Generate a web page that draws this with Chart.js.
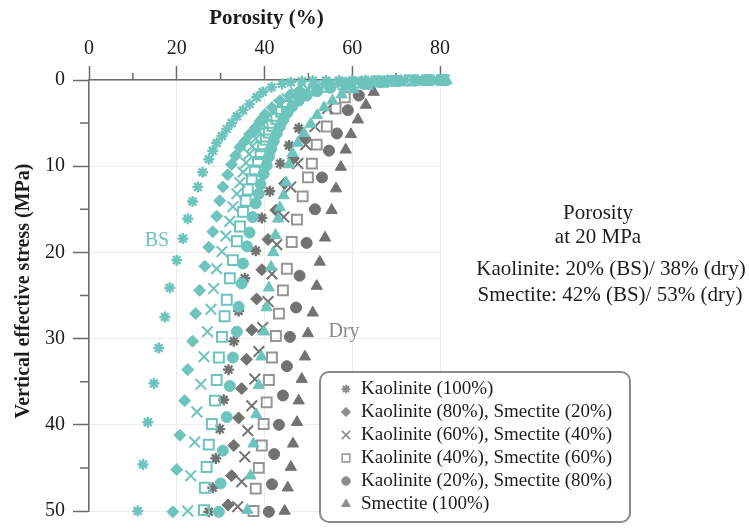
<!DOCTYPE html>
<html>
<head>
<meta charset="utf-8">
<script src="https://cdn.jsdelivr.net/npm/chart.js"></script>
<style>
  html, body { margin: 0; padding: 0; background: #ffffff; }
  canvas { display: block; }
</style>
</head>
<body>
<canvas id="chart" width="749" height="531"></canvas>
<script>
// Compaction curves: porosity (%) against vertical effective stress (MPa)
// for kaolinite–smectite mixtures, brine-saturated (BS) and dry.

const porosityTicks = [0, 20, 40, 60, 80];
const porosityMinorTicks = [10, 30, 50, 70];
const stressTicks = [0, 10, 20, 30, 40, 50];
const stressMinorTicks = [5, 15, 25, 35, 45];

const mixtureLabels = [
  'Kaolinite (100%)',
  'Kaolinite (80%), Smectite (20%)',
  'Kaolinite (60%), Smectite (40%)',
  'Kaolinite (40%), Smectite (60%)',
  'Kaolinite (20%), Smectite (80%)',
  'Smectite (100%)'
];

// Brine-saturated (BS)
const bsK100Stress = [0, 0, 0.01, 0.01, 0.02, 0.02, 0.03, 0.04, 0.05, 0.07, 0.1, 0.15, 0.25, 0.45, 0.85, 1.4, 2.0, 2.8, 3.5, 4.2, 5.0, 5.7, 6.5, 7.3, 8.2, 9.2, 10.7, 12.4, 14.1, 16.1, 18.4, 20.9, 24.1, 27.5, 31.1, 35.2, 39.7, 44.6, 50.0];
const bsK100Porosity = [81, 78, 75, 72, 69, 66, 63, 60, 57, 54, 51, 48.5, 46, 44, 41.6, 39.6, 38.2, 36.6, 35.1, 33.7, 32.5, 31.4, 30.3, 29.1, 28.2, 27.3, 25.9, 24.8, 23.6, 22.5, 21.4, 20.0, 18.4, 17.3, 15.9, 14.8, 13.4, 12.3, 11.1];

const bsK80Stress = [0, 0.01, 0.02, 0.04, 0.07, 0.12, 0.2, 0.3, 0.45, 0.75, 1.2, 1.75, 2.4, 3.2, 4.0, 4.8, 5.6, 6.3, 7.1, 7.8, 8.8, 9.8, 11.0, 12.4, 14.0, 15.8, 17.6, 19.4, 21.6, 24.4, 27.1, 30.3, 33.6, 37.2, 41.2, 45.2, 50.1];
const bsK80Porosity = [80, 77, 74, 71, 68, 65, 62, 58.5, 55, 51.5, 48.0, 45.8, 43.5, 41.7, 40.1, 38.9, 37.8, 36.6, 35.5, 34.4, 33.4, 32.5, 31.6, 30.5, 29.8, 29.1, 28.2, 27.3, 26.4, 25.2, 24.3, 23.6, 22.5, 21.8, 20.7, 20.0, 19.1];

const bsK60Stress = [0, 0.01, 0.03, 0.05, 0.1, 0.17, 0.28, 0.45, 0.7, 1.1, 1.6, 2.2, 2.9, 3.6, 4.4, 5.2, 6.0, 6.8, 7.7, 8.6, 9.6, 10.7, 11.9, 13.2, 14.7, 16.4, 18.1, 19.9, 21.9, 24.2, 26.6, 29.2, 32.1, 35.3, 38.5, 42.0, 45.9, 50.0];
const bsK60Porosity = [81, 78.5, 75.5, 72, 68.3, 64.5, 60.8, 57, 53.3, 50, 47.3, 45.1, 43.3, 41.9, 40.7, 39.7, 38.8, 38.0, 37.2, 36.5, 35.8, 35.1, 34.4, 33.7, 32.8, 32.1, 31.2, 30.3, 29.1, 28.4, 27.8, 27.0, 26.2, 25.5, 24.6, 24.1, 23.2, 22.5];

const bsK40Stress = [0, 0.02, 0.05, 0.1, 0.18, 0.3, 0.5, 0.8, 1.2, 1.7, 2.3, 3.0, 3.7, 4.5, 5.3, 6.1, 6.9, 7.7, 8.6, 9.5, 10.5, 11.5, 12.7, 14.0, 15.3, 17.0, 18.7, 20.9, 23.0, 25.5, 27.4, 29.8, 32.2, 34.8, 37.2, 39.9, 42.3, 44.9, 47.3, 49.9];
const bsK40Porosity = [80.5, 77, 73.2, 69.5, 65.5, 61.8, 58, 54.3, 51.2, 48.7, 46.7, 45.1, 43.8, 42.7, 41.8, 41.0, 40.3, 39.7, 39.1, 38.5, 37.8, 37.1, 36.2, 35.7, 35.1, 34.4, 33.7, 32.8, 32.1, 31.4, 30.9, 30.3, 29.6, 29.1, 28.7, 28.0, 27.3, 26.8, 26.4, 26.2];

const bsK20Stress = [0, 0.02, 0.06, 0.12, 0.22, 0.38, 0.6, 0.9, 1.3, 1.8, 2.4, 3.1, 3.8, 4.6, 5.4, 6.2, 7.1, 8.0, 8.9, 9.9, 10.9, 12.1, 13.2, 14.3, 15.9, 17.7, 19.3, 21.3, 23.6, 26.3, 29.2, 32.2, 35.5, 39.1, 43.0, 46.8, 50.1];
const bsK20Porosity = [81.5, 78, 74.5, 70.5, 66.5, 62.5, 58.5, 55.0, 52.0, 49.6, 47.8, 46.3, 45.2, 44.3, 43.5, 42.8, 42.1, 41.5, 41.0, 40.5, 39.8, 39.1, 38.7, 38.0, 37.3, 36.6, 36.0, 35.1, 34.8, 34.1, 33.7, 32.8, 32.1, 31.4, 30.5, 30.0, 29.6];

const bsS100Stress = [0.05, 0.12, 0.2, 0.3, 0.45, 0.7, 1.1, 1.7, 2.4, 3.2, 4.1, 5.1, 6.2, 7.3, 8.5, 9.8, 11.9, 13.4, 14.8, 16.1, 18.0, 20.0, 21.7, 24.1, 26.4, 29.2, 32.1, 35.4, 38.8, 42.2, 45.9, 49.9];
const bsS100Porosity = [81.5, 78, 74.5, 70.8, 67, 63.5, 60.3, 57.6, 55.5, 53.6, 52.0, 50.5, 49.0, 47.6, 46.4, 45.6, 44.9, 44.4, 43.5, 43.1, 42.5, 42.0, 41.5, 41.0, 40.5, 39.9, 39.3, 38.7, 38.1, 37.5, 36.8, 36.1];

// Dry
const dryK100Stress = [5.6, 7.6, 9.7, 12.9, 16.0, 19.8, 23.0, 26.8, 30.3, 33.6, 37.1, 40.5, 43.9, 47.3, 50.1];
const dryK100Porosity = [47.8, 45.6, 43.6, 41.2, 39.4, 38.0, 35.5, 34.1, 33.0, 31.8, 30.7, 29.8, 28.9, 28.2, 27.3];

const dryK80Stress = [6.7, 9.1, 12.0, 15.1, 18.5, 22.0, 25.4, 29.0, 32.4, 35.8, 39.2, 42.4, 45.9, 49.3];
const dryK80Porosity = [49.2, 46.6, 44.6, 42.6, 40.8, 39.4, 38.2, 37.1, 35.9, 34.8, 34.1, 33.0, 32.5, 31.7];

const dryK60Stress = [3.3, 5.4, 7.5, 9.7, 12.4, 15.9, 19.1, 22.5, 25.7, 28.7, 31.5, 34.7, 37.8, 40.7, 43.7, 46.6, 49.5];
const dryK60Porosity = [54.4, 51.5, 49.4, 47.6, 46.0, 44.4, 42.8, 41.7, 40.8, 39.6, 38.7, 37.8, 37.1, 36.2, 35.5, 34.8, 33.9];

const dryK40Stress = [2.0, 3.3, 5.4, 7.5, 9.7, 11.3, 13.5, 16.2, 18.8, 21.9, 24.4, 27.1, 29.7, 32.2, 34.8, 37.4, 39.9, 42.4, 45.0, 47.4, 50.0];
const dryK40Porosity = [58.3, 56.2, 54.2, 51.9, 50.8, 49.9, 48.7, 47.4, 46.2, 45.1, 44.2, 43.3, 42.6, 41.7, 41.0, 40.5, 39.8, 39.4, 38.7, 38.0, 37.5];

const dryK20Stress = [1.8, 3.5, 6.2, 8.2, 11.3, 15.0, 18.9, 22.7, 26.4, 29.8, 33.2, 36.6, 40.0, 43.4, 46.9, 50.1];
const dryK20Porosity = [61.5, 59.0, 56.5, 54.7, 53.1, 51.5, 49.6, 48.0, 47.2, 45.8, 45.1, 44.2, 43.3, 42.2, 41.7, 41.0];

const dryS100Stress = [1.4, 2.9, 4.6, 6.3, 8.1, 10.1, 12.6, 15.1, 18.3, 21.1, 23.9, 27.0, 29.4, 32.1, 34.7, 37.2, 39.7, 42.2, 44.9, 47.3, 50.0];
const dryS100Porosity = [64.9, 63.1, 61.3, 59.7, 58.5, 57.4, 56.3, 55.3, 53.8, 52.6, 51.9, 51.0, 49.9, 49.2, 48.5, 47.8, 47.4, 46.5, 46.0, 45.3, 44.6];

const summaryLines = [
  'Porosity',
  'at 20 MPa',
  'Kaolinite: 20% (BS)/ 38% (dry)',
  'Smectite: 42% (BS)/ 53% (dry)'
];

// ---- styling ----
const SERIF = "'Liberation Serif', 'Times New Roman', serif";
const TEAL = '#6cc4bd';
const GRAY = '#727272';
const GRAY_LIGHT = '#959595';
const AXIS = '#6a6a6a';
const TEXT = '#1c1c1c';

// marker shapes per mixture, in the order of mixtureLabels
const markers = [
  { style: 'star',     radius: 5.5, width: 2.4, filled: false },
  { style: 'rectRot',  radius: 6,   width: 1,   filled: true  },
  { style: 'crossRot', radius: 7.5, width: 2,   filled: false },
  { style: 'rect',     radius: 7,   width: 2,   filled: false },
  { style: 'circle',   radius: 5.5, width: 1,   filled: true  },
  { style: 'triangle', radius: 6.5, width: 1,   filled: true  }
];

function toPoints(stress, porosity) {
  return stress.map((s, i) => ({ x: porosity[i], y: s }));
}

function makeSeries(label, stress, porosity, mIdx, color, square) {
  const m = markers[mIdx];
  const stroke = square ? (color === GRAY ? GRAY_LIGHT : color) : color;
  return {
    label: label,
    data: toPoints(stress, porosity),
    showLine: false,
    clip: false,
    pointStyle: m.style,
    pointRadius: m.radius,
    pointHoverRadius: m.radius,
    pointBorderWidth: m.width,
    pointBorderColor: stroke,
    pointBackgroundColor: m.filled ? color : 'rgba(0,0,0,0)',
    borderColor: stroke,
    backgroundColor: m.filled ? color : 'rgba(0,0,0,0)'
  };
}

// BS series first so they are painted above the dry ones
const datasets = [
  makeSeries('BS ' + mixtureLabels[0], bsK100Stress, bsK100Porosity, 0, TEAL),
  makeSeries('BS ' + mixtureLabels[1], bsK80Stress, bsK80Porosity, 1, TEAL),
  makeSeries('BS ' + mixtureLabels[2], bsK60Stress, bsK60Porosity, 2, TEAL),
  makeSeries('BS ' + mixtureLabels[3], bsK40Stress, bsK40Porosity, 3, TEAL, true),
  makeSeries('BS ' + mixtureLabels[4], bsK20Stress, bsK20Porosity, 4, TEAL),
  makeSeries('BS ' + mixtureLabels[5], bsS100Stress, bsS100Porosity, 5, TEAL),
  makeSeries('Dry ' + mixtureLabels[0], dryK100Stress, dryK100Porosity, 0, GRAY),
  makeSeries('Dry ' + mixtureLabels[1], dryK80Stress, dryK80Porosity, 1, GRAY),
  makeSeries('Dry ' + mixtureLabels[2], dryK60Stress, dryK60Porosity, 2, GRAY),
  makeSeries('Dry ' + mixtureLabels[3], dryK40Stress, dryK40Porosity, 3, GRAY, true),
  makeSeries('Dry ' + mixtureLabels[4], dryK20Stress, dryK20Porosity, 4, GRAY),
  makeSeries('Dry ' + mixtureLabels[5], dryS100Stress, dryS100Porosity, 5, GRAY)
];

// minor ticks, axis titles, annotations and the legend box
const decorations = {
  id: 'decorations',
  beforeDatasetsDraw(chart) {
    const ctx = chart.ctx;
    const area = chart.chartArea;
    const xs = chart.scales.x, ys = chart.scales.y;
    ctx.save();
    ctx.strokeStyle = AXIS;
    ctx.lineWidth = 1.5;
    ctx.beginPath();
    porosityMinorTicks.forEach(v => {
      const px = xs.getPixelForValue(v);
      ctx.moveTo(px, area.top);
      ctx.lineTo(px, area.top - 7);
    });
    stressMinorTicks.forEach(v => {
      const py = ys.getPixelForValue(v);
      ctx.moveTo(area.left, py);
      ctx.lineTo(area.left - 9, py);
    });
    ctx.stroke();
    ctx.restore();
  },
  afterDatasetsDraw(chart) {
    const ctx = chart.ctx;
    const area = chart.chartArea;
    ctx.save();

    // axis titles
    ctx.fillStyle = TEXT;
    ctx.textAlign = 'center';
    ctx.textBaseline = 'middle';
    ctx.font = 'bold 21px ' + SERIF;
    ctx.fillText('Porosity (%)', (area.left + area.right) / 2 + 2, 19);
    ctx.save();
    ctx.translate(24, 291);
    ctx.rotate(-Math.PI / 2);
    ctx.font = 'bold 20px ' + SERIF;
    ctx.fillText('Vertical effective stress (MPa)', 0, 0);
    ctx.restore();

    // curve group labels
    ctx.font = '20px ' + SERIF;
    ctx.fillStyle = TEAL;
    ctx.fillText('BS', 157, 241);
    ctx.fillStyle = '#8a8a8a';
    ctx.fillText('Dry', 344, 332);

    // summary text
    ctx.fillStyle = TEXT;
    ctx.font = '21px ' + SERIF;
    ctx.fillText(summaryLines[0], 598, 213);
    ctx.fillText(summaryLines[1], 598, 237);
    ctx.fillText(summaryLines[2], 611, 269);
    ctx.fillText(summaryLines[3], 610, 295);

    // legend box
    const bx = 320, by = 372, bw = 310, bh = 150, r = 9;
    ctx.beginPath();
    ctx.moveTo(bx + r, by);
    ctx.lineTo(bx + bw - r, by);
    ctx.arcTo(bx + bw, by, bx + bw, by + r, r);
    ctx.lineTo(bx + bw, by + bh - r);
    ctx.arcTo(bx + bw, by + bh, bx + bw - r, by + bh, r);
    ctx.lineTo(bx + r, by + bh);
    ctx.arcTo(bx, by + bh, bx, by + bh - r, r);
    ctx.lineTo(bx, by + r);
    ctx.arcTo(bx, by, bx + r, by, r);
    ctx.closePath();
    ctx.fillStyle = '#ffffff';
    ctx.fill();
    ctx.strokeStyle = '#8a8a8a';
    ctx.lineWidth = 2;
    ctx.stroke();

    const legendMarkerColor = '#8c8c8c';
    ctx.font = '19px ' + SERIF;
    ctx.textAlign = 'left';
    mixtureLabels.forEach((label, i) => {
      const y = 389 + i * 23;
      const m = markers[i];
      ctx.save();
      ctx.strokeStyle = i === 3 ? '#a0a0a0' : legendMarkerColor;
      ctx.fillStyle = m.filled ? legendMarkerColor : '#ffffff';
      ctx.lineWidth = m.width * 0.8;
      Chart.helpers.drawPoint(ctx, {
        pointStyle: m.style,
        radius: m.radius * 0.78,
        rotation: 0,
        borderWidth: m.width
      }, 346, y);
      ctx.restore();
      ctx.fillStyle = TEXT;
      ctx.fillText(label, 361, y);
    });

    ctx.restore();
  }
};

const tickFont = { family: SERIF, size: 20 };

new Chart(document.getElementById('chart'), {
  type: 'scatter',
  data: { datasets: datasets },
  options: {
    responsive: false,
    animation: false,
    devicePixelRatio: 1,
    layout: { padding: { left: 0, top: 0, right: 309, bottom: 10 } },
    plugins: {
      legend: { display: false },
      tooltip: { enabled: false }
    },
    events: [],
    scales: {
      x: {
        type: 'linear',
        position: 'top',
        min: porosityTicks[0],
        max: porosityTicks[porosityTicks.length - 1],
        afterBuildTicks(scale) {
          scale.ticks = porosityTicks.map(v => ({ value: v }));
        },
        afterFit(scale) { scale.height = 80; },
        ticks: { color: TEXT, font: tickFont, padding: 5, maxRotation: 0 },
        grid: { color: '#ececec', lineWidth: 1, tickColor: AXIS, tickLength: 14, tickWidth: 1.5 },
        border: { color: AXIS, width: 1.5 }
      },
      y: {
        type: 'linear',
        reverse: true,
        min: stressTicks[0],
        max: stressTicks[stressTicks.length - 1],
        afterBuildTicks(scale) {
          scale.ticks = stressTicks.map(v => ({ value: v }));
        },
        afterFit(scale) { scale.width = 89; },
        ticks: { color: TEXT, font: tickFont, padding: 8 },
        grid: { color: '#ececec', lineWidth: 1, tickColor: AXIS, tickLength: 16, tickWidth: 1.5 },
        border: { color: AXIS, width: 1.5 }
      }
    }
  },
  plugins: [decorations]
});
</script>
</body>
</html>
